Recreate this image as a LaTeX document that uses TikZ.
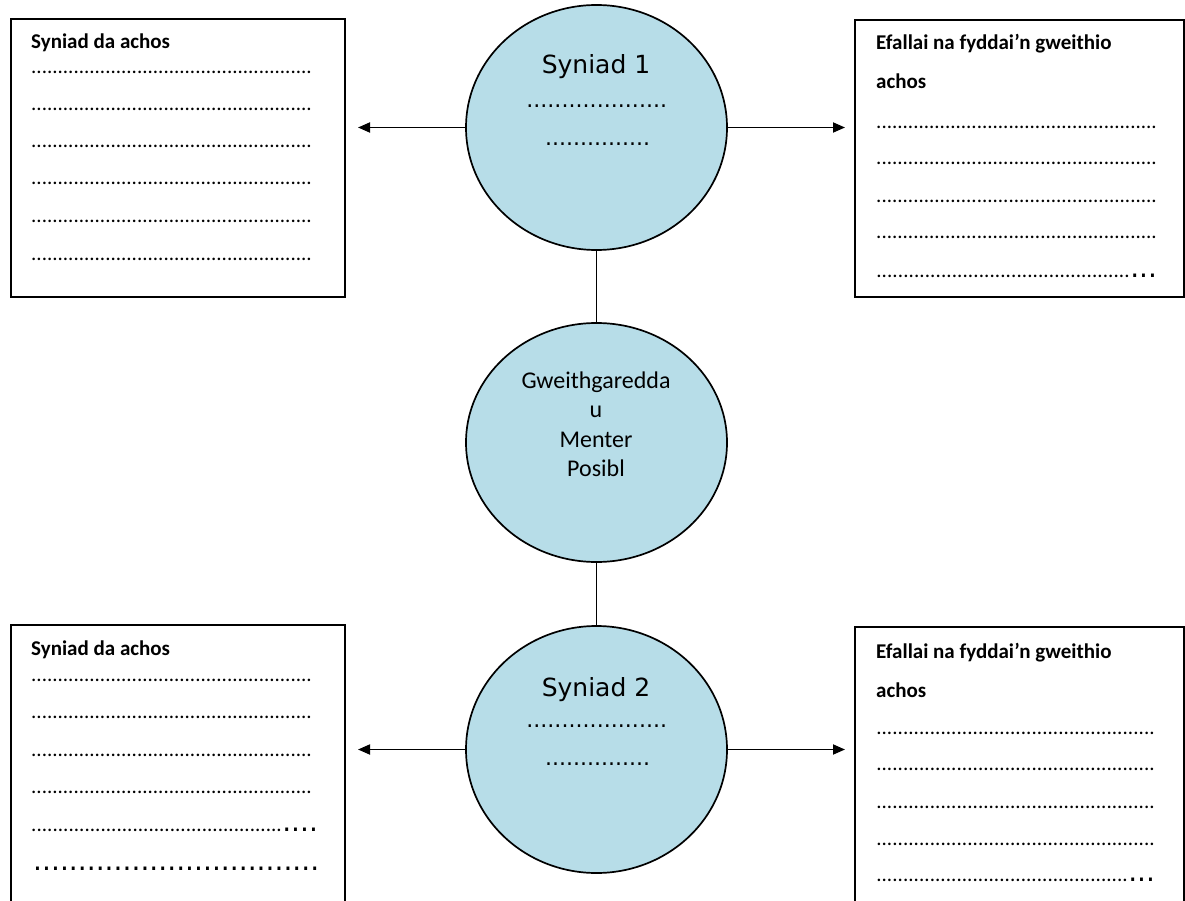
\documentclass[tikz,border=0pt]{standalone}
\usepackage{fontspec}
\setmainfont{Carlito}
\newfontfamily\circfont{DejaVu Sans}
\usetikzlibrary{shapes.geometric,arrows.meta}
\definecolor{bub}{HTML}{B7DDE8}
\newcommand\dotrow[1]{\makebox[#1pt][l]{\xleaders\hbox{.}\hfill}}
\newcommand\bigdots[1]{{\circfont\mdseries\fontsize{28}{28}\selectfont\dotrow{#1}}}
\newcommand\circdots[1]{{\circfont\mdseries\fontsize{22}{22}\selectfont\dotrow{#1}}}
\begin{document}
\begin{tikzpicture}[x=1pt,y=-1pt,
  boxstyle/.style={draw,line width=2.2pt,inner sep=0pt,anchor=north west},
  bubble/.style={ellipse,draw,fill=bub,line width=1.7pt,minimum width=261pt,inner sep=0pt},
  txt/.style={anchor=base west,inner sep=0pt,font=\fontsize{21}{25}\selectfont},
  head/.style={txt,font=\fontsize{21}{25}\selectfont\bfseries},
  ctitle/.style={anchor=base,inner sep=0pt,font=\circfont\fontsize{25}{25}\selectfont},
  ctxt/.style={anchor=base,inner sep=0pt,font=\fontsize{24}{24}\selectfont},
  cdot/.style={anchor=base west,inner sep=0pt},
  link/.style={line width=1.8pt},
  arr/.style={line width=1.8pt,-{Triangle[length=12pt,width=10pt]}}]
\useasboundingbox (0,0) rectangle (1185,901);
\clip (0,0) rectangle (1185,901);
\fill[white] (0,0) rectangle (1185,901);

% boxes
\node[boxstyle,minimum width=334pt,minimum height=278pt] (tl) at (10,18) {};
\node[boxstyle,minimum width=329pt,minimum height=277pt] (tr) at (854,19) {};
\node[boxstyle,minimum width=334pt,minimum height=320pt] (bl) at (10,624) {};
\node[boxstyle,minimum width=329pt,minimum height=320pt] (br) at (854,626) {};

% top-left text
\node[head] (tlh) at (31,49) {Syniad da achos};
\foreach \y [count=\i] in {74,111,148,185,223,261}
  \node[txt] (tld\i) at (31,\y) {\dotrow{281}};

% top-right text
\node[head] (trh1) at (876,50) {Efallai na fyddai’n gweithio};
\node[head] (trh2) at (876,89) {achos};
\foreach \y [count=\i] in {129,165,203,239}
  \node[txt] (trd\i) at (876,\y) {\dotrow{281}};
\node[txt] (trd5) at (876,277) {\dotrow{254}\bigdots{27}};

% bottom-left text
\node[head] (blh) at (31,655) {Syniad da achos};
\foreach \y [count=\i] in {681,718,756,793}
  \node[txt] (bld\i) at (31,\y) {\dotrow{281}};
\node[txt] (bld5) at (31,831) {\dotrow{251}\bigdots{36}};
\node[txt] (bld6) at (33,870) {\bigdots{286}};

% bottom-right text
\node[head] (brh1) at (876,658) {Efallai na fyddai’n gweithio};
\node[head] (brh2) at (876,697) {achos};
\foreach \y [count=\i] in {734,770,808,845}
  \node[txt] (brd\i) at (876,\y) {\dotrow{279}};
\node[txt] (brd5) at (876,881) {\dotrow{252}\bigdots{27}};

% circles
\node[bubble,minimum height=245pt] (c1) at (596.5,127.5) {};
\node[bubble,minimum height=239pt] (cm) at (596.5,442.5) {};
\node[bubble,minimum height=247pt] (c2) at (596.5,749.5) {};

\node[ctitle] (c1t) at (596,74) {Syniad 1};
\node[cdot] (c1d1) at (526,108) {\circdots{141}};
\node[cdot] (c1d2) at (545,146) {\circdots{105}};

\node[ctitle] (c2t) at (596,696) {Syniad 2};
\node[cdot] (c2d1) at (526,727) {\circdots{141}};
\node[cdot] (c2d2) at (545,765) {\circdots{105}};

\node[ctxt] (cm1) at (596,388) {Gweithgaredda};
\node[ctxt] (cm2) at (596,417) {u};
\node[ctxt] (cm3) at (596,447) {Menter};
\node[ctxt] (cm4) at (596,476) {Posibl};

% connectors
\draw[link] (c1) -- (cm);
\draw[link] (cm) -- (c2);
\coordinate (a1) at (358,127.5);
\coordinate (a2) at (845,127.5);
\coordinate (a3) at (358,749.5);
\coordinate (a4) at (845,749.5);
\draw[arr] (c1.west) -- (a1);
\draw[arr] (c1.east) -- (a2);
\draw[arr] (c2.west) -- (a3);
\draw[arr] (c2.east) -- (a4);
\end{tikzpicture}
\end{document}
